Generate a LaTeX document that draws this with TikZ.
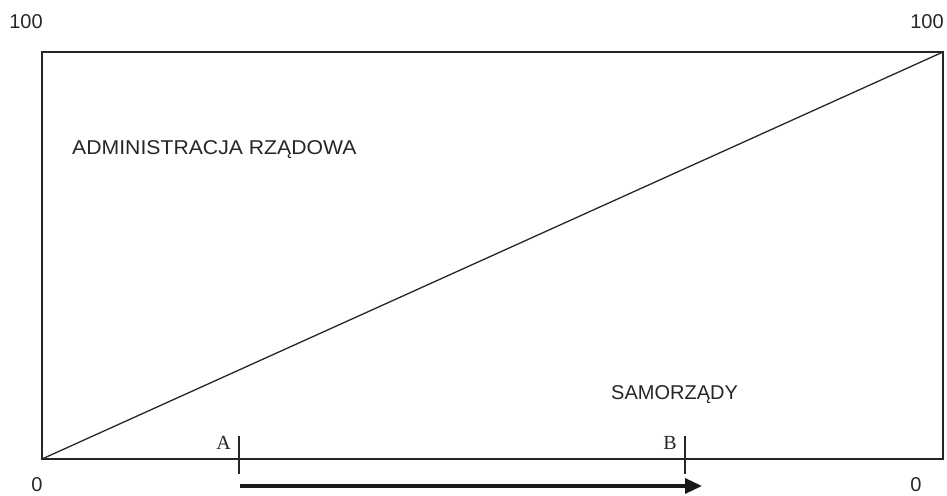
\documentclass[tikz,border=0pt]{standalone}
\usepackage{fontspec}
\setmainfont{Liberation Sans}
\newfontfamily\serifA{Liberation Serif}
\usetikzlibrary{arrows.meta}
\begin{document}
\begin{tikzpicture}[x=1pt,y=1pt,
  lbl/.style={font=\fontsize{20}{23}\selectfont, text=black!85, inner sep=0pt},
  tick/.style={font=\serifA\fontsize{20}{22}\selectfont, text=black!85, inner sep=0pt},
  frame/.style={draw=black!85, line width=1.3pt}]
\useasboundingbox (0,0) rectangle (947,495);
\coordinate (bl) at (42,36);
\coordinate (tr) at (943,443);
\draw[frame] (bl) rectangle (tr);
\draw[frame] (bl) -- (tr);
\node[lbl] (h1) at (26,473) {100};
\node[lbl] (h2) at (927,473) {100};
\node[lbl] (z1) at (37,10.5) {0};
\node[lbl] (z2) at (916,10.5) {0};
\node[lbl, anchor=west, xscale=1.06] (adm) at (72,345) {ADMINISTRACJA RZĄDOWA};
\node[lbl, anchor=west] (sam) at (611,100) {SAMORZĄDY};
\coordinate (a1) at (239,59);
\coordinate (a2) at (239,21);
\coordinate (b1) at (685,59);
\coordinate (b2) at (685,21);
\draw[frame] (a1) -- (a2);
\draw[frame] (b1) -- (b2);
\node[tick, anchor=east] (A) at (231,52) {A};
\node[tick, anchor=east] (B) at (677,52) {B};
\coordinate (s) at (240,9);
\coordinate (e) at (702,9);
\draw[line width=3.3pt, draw=black!90, -{Triangle[length=17pt,width=15pt]}] (s) -- (e);
\end{tikzpicture}
\end{document}
